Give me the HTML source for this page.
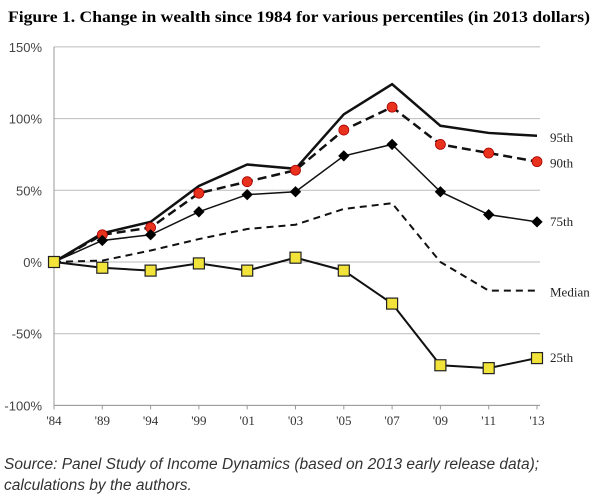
<!DOCTYPE html>
<html><head><meta charset="utf-8"><style>
body{margin:0;background:#fff;width:600px;height:500px;overflow:hidden}
svg{display:block}
</style></head><body>
<svg width="600" height="500">
<text x="299" y="22" text-anchor="middle" font-family="Liberation Serif, serif" font-weight="bold" font-size="16" textLength="582" lengthAdjust="spacingAndGlyphs">Figure 1. Change in wealth since 1984 for various percentiles (in 2013 dollars)</text>
<g id="grid"></g>
<g id="axes"></g>
<g id="series"></g>
<text x="4" y="469" font-family="Liberation Sans, sans-serif" font-style="italic" font-size="15.5" fill="#333">Source: Panel Study of Income Dynamics (based on 2013 early release data);</text>
<text x="4" y="490" font-family="Liberation Sans, sans-serif" font-style="italic" font-size="15.5" fill="#333">calculations by the authors.</text>
</svg>
<script>
const categories=["'84","'89","'94","'99","'01","'03","'05","'07","'09","'11","'13"];
const yTicks=[150,100,50,0,-50,-100];
const p95=[0,20,28,53,68,65,103,124,95,90,88];
const p90=[0,19,24,48,56,64,92,108,82,76,70];
const p75=[0,15,19,35,47,49,74,82,49,33,28];
const median=[0,1,8,16,23,26,37,41,0,-20,-20];
const p25=[0,-4,-6,-1,-6,3,-6,-29,-72,-74,-67];
const NS='http://www.w3.org/2000/svg';
const x=i=>54+i*(537-54)/(categories.length-1);
const y=v=>262-v*1.434;
function mk(t,a,p){const e=document.createElementNS(NS,t);for(const k in a)e.setAttribute(k,a[k]);p.appendChild(e);return e;}
const G=document.getElementById('grid'),A=document.getElementById('axes'),S=document.getElementById('series');
yTicks.forEach(v=>{
 const l=mk('line',{x1:54,x2:540,y1:y(v),y2:y(v),stroke:'#bbb','stroke-width':1},G);
 
 
 const t=mk('text',{x:42,y:y(v)+5,'text-anchor':'end','font-family':'Liberation Sans, sans-serif','font-size':13,fill:'#444'},A);
 t.textContent=v+'%';
 
 
});
mk('line',{x1:54,x2:54,y1:y(150),y2:y(-100),stroke:'#999'},A);
mk('line',{x1:54,x2:540,y1:y(-100),y2:y(-100),stroke:'#999'},A);
categories.forEach((c,i)=>{
 mk('line',{x1:x(i),x2:x(i),y1:y(-100),y2:y(-100)+4,stroke:'#999'},A);
 const t=mk('text',{x:x(i),y:425,'text-anchor':'middle','font-family':'Liberation Serif, serif','font-size':13,fill:'#333'},A);
 t.textContent=c;
 
 
});
function line(d,w,dash,name){
 const p=mk('polyline',{points:d.map((v,i)=>x(i)+','+y(v)).join(' '),fill:'none',stroke:'#111','stroke-width':w,'stroke-dasharray':dash||'none'},S);
 
 
}
line(median,2,'7,5','median-line');
line(p75,1.5,null,'p75-line');
line(p90,2.5,'9,5','p90-line');
line(p95,2.5,null,'p95-line');
line(p25,2,null,'p25-line');
p90.forEach((v,i)=>{if(i==0)return;const c=mk('circle',{cx:x(i),cy:y(v),r:5,fill:'#e8321e',stroke:'#a00','stroke-width':0.8},S);
 
 });
p75.forEach((v,i)=>{if(i==0)return;const c=mk('rect',{x:x(i)-4,y:y(v)-4,width:8,height:8,fill:'#000',transform:`rotate(45 ${x(i)} ${y(v)})`},S);
 
 });
p25.forEach((v,i)=>{const c=mk('rect',{x:x(i)-5.5,y:y(v)-5.5,width:11,height:11,fill:'#f2e33a',stroke:'#222','stroke-width':1.2},S);
 
 });
const labels=[['95th',p95,1],['90th',p90,1],['75th',p75,-1],['Median',median,1],['25th',p25,-1]];
labels.forEach(([n,d,off])=>{const t=mk('text',{x:550,y:y(d[d.length-1])+5+off,'font-family':'Liberation Serif, serif','font-size':13,fill:'#222'},S);
 t.textContent=n;
 
 });
</script>
</body></html>
